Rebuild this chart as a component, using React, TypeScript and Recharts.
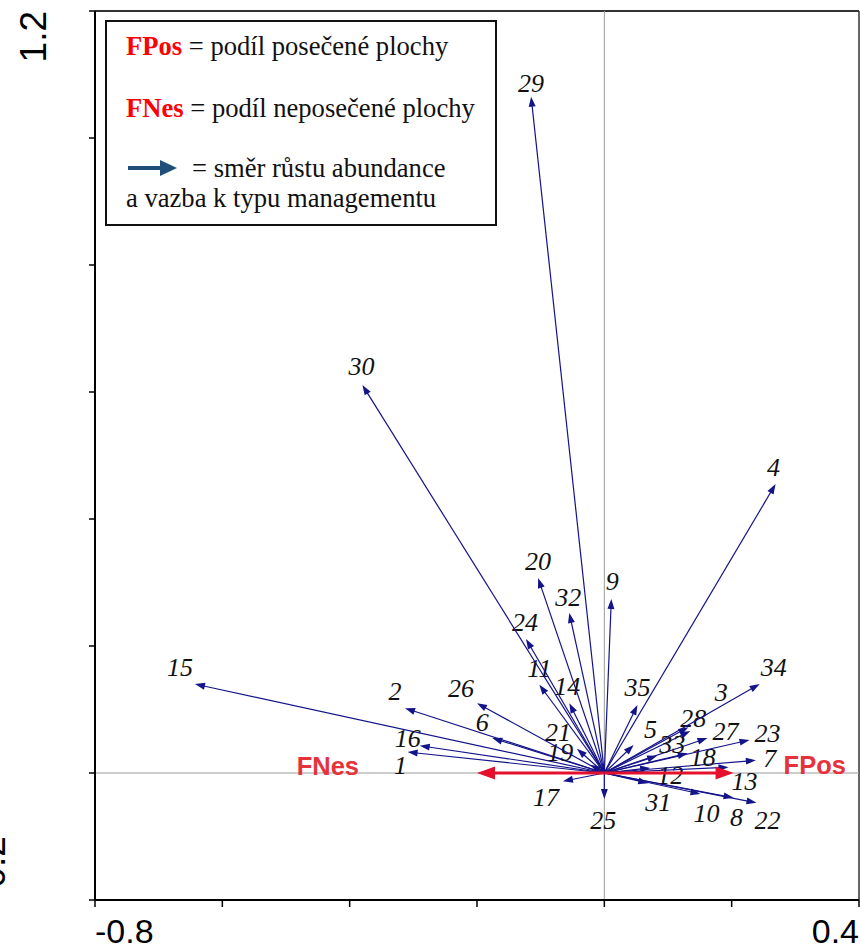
import React from "react"
import { ComposedChart, XAxis, YAxis, ReferenceLine } from "recharts"

// species arrows (CCA biplot scores)
const SPECIES = [
  "1", "2", "3", "4", "5", "6", "7", "8", "9", "10",
  "11", "12", "13", "14", "15", "16", "17", "18", "19", "20",
  "21", "22", "23", "24", "25", "26", "27", "28", "29", "30",
  "31", "32", "33", "34", "35",
]
const SPECIES_X = [
  -0.309, -0.313, 0.132, 0.269, 0.046, -0.176, 0.238, 0.203, 0.011, 0.151,
  -0.102, 0.072, 0.195, -0.055, -0.643, -0.290, -0.065, 0.131, -0.022, -0.104,
  -0.043, 0.239, 0.228, -0.123, 0.0, -0.200, 0.162, 0.135, -0.115, -0.380,
  0.069, -0.055, 0.083, 0.244, 0.052,
]
const SPECIES_Y = [
  0.033, 0.102, 0.072, 0.455, 0.044, 0.055, 0.020, -0.039, 0.274, -0.033,
  0.139, 0.008, 0.009, 0.110, 0.140, 0.043, -0.013, 0.031, 0.013, 0.307,
  0.038, -0.047, 0.052, 0.211, -0.041, 0.110, 0.055, 0.066, 1.065, 0.611,
  -0.016, 0.252, 0.027, 0.140, 0.107,
]

// environmental variables
const ENV_VARS = ["FPos", "FNes"]
const ENV_X = [0.203, -0.2]
const ENV_Y = [0, 0]

const X_TICKS = [-0.8, -0.6, -0.4, -0.2, 0, 0.2, 0.4]
const Y_TICKS = [-0.2, 0, 0.2, 0.4, 0.6, 0.8, 1.0, 1.2]

// label offsets from arrow tips, in pixels
const LABEL_OFFSETS: Record<string, [number, number]> = {
  "1": [-7, 13], "2": [-10, -17], "3": [33, -35], "4": [-2, -17], "5": [17, -16],
  "6": [-10, -16], "7": [14, -2], "8": [3, 19], "9": [1, -18], "10": [6, 19],
  "11": [0, -17], "12": [20, 7], "13": [16, 14], "14": [-2, -17], "15": [-15, -17],
  "16": [-12, -8], "17": [-17, 16], "18": [15, 4], "19": [-30, -13], "20": [0, -17],
  "21": [-19, -17], "22": [11, 17], "23": [18, -7], "24": [-1, -17], "25": [-1, 21],
  "26": [-16, -15], "27": [18, -7], "28": [3, -13], "29": [0, -14], "30": [-1, -19],
  "31": [10, 19], "32": [-1, -16], "33": [15, -12], "34": [14, -17], "35": [0, -18],
  FPos: [50, 1], FNes: [-118, 2],
}

const BLUE = "#14148a"
const RED = "#e5102c"

function arrow(p: any, color: string, width: number, len: number, half: number) {
  const { x1, y1, x2, y2 } = p
  const dx = x2 - x1
  const dy = y2 - y1
  const d = Math.sqrt(dx * dx + dy * dy) || 1
  const ux = dx / d
  const uy = dy / d
  const bx = x2 - ux * len
  const by = y2 - uy * len
  const pts = `${x2},${y2} ${bx - uy * half},${by + ux * half} ${bx + uy * half},${by - ux * half}`
  return (
    <g>
      <line x1={x1} y1={y1} x2={bx + ux * 1} y2={by + uy * 1} stroke={color} strokeWidth={width} />
      <polygon points={pts} fill={color} />
    </g>
  )
}

const speciesShape = (name: string) => (p: any) => {
  const [ox, oy] = LABEL_OFFSETS[name]
  return (
    <g>
      {arrow(p, BLUE, 1.2, 10, 3.5)}
      <text
        x={p.x2 + ox}
        y={p.y2 + oy + 9}
        textAnchor="middle"
        fontFamily='"Liberation Serif", "Times New Roman", serif'
        fontStyle="italic"
        fontSize={26}
        fill="#111"
      >
        {name}
      </text>
    </g>
  )
}

const envShape = (name: string) => (p: any) => {
  const [ox, oy] = LABEL_OFFSETS[name]
  return (
    <g>
      {arrow(p, RED, 3, 18, 6.5)}
      <text
        x={p.x2 + ox}
        y={p.y2 + oy}
        textAnchor={ox < 0 ? "end" : "start"}
        fontFamily='"Liberation Sans", Arial, sans-serif'
        fontWeight="bold"
        fontSize={25.5}
        fill="#e6333b"
      >
        {name}
      </text>
    </g>
  )
}

function XTick(props: any) {
  const { x, payload } = props
  const v = payload.value
  if (v !== -0.8 && v !== 0.4) return null
  return (
    <text
      x={x}
      y={943}
      textAnchor={v === -0.8 ? "start" : "end"}
      fontFamily='"Liberation Sans", Arial, sans-serif'
      fontSize={34}
      fill="#000"
    >
      {v.toFixed(1)}
    </text>
  )
}

function YTick(props: any) {
  const { y, payload } = props
  const v = payload.value
  if (v !== 1.2 && v !== -0.2) return null
  const bx = v === 1.2 ? 46 : 5
  return (
    <text
      x={bx}
      y={y}
      transform={`rotate(-90, ${bx}, ${y})`}
      textAnchor={v === 1.2 ? "end" : "start"}
      fontFamily='"Liberation Sans", Arial, sans-serif'
      fontSize={37}
      fill="#000"
    >
      {v.toFixed(1)}
    </text>
  )
}

function Legend() {
  const serif = '"Liberation Serif", "Times New Roman", serif'
  return (
    <svg
      width={860}
      height={944}
      style={{ position: "absolute", left: 0, top: 0, pointerEvents: "none" }}
    >
      <rect x={106} y={21} width={390} height={204} fill="#fff" stroke="#111" strokeWidth={2} />
      <g fontFamily={serif} fontSize={26.6} fill="#111">
        <text x={126} y={55}>
          <tspan fill="#ff0000" fontWeight="bold">FPos</tspan>
          <tspan> = podíl posečené plochy</tspan>
        </text>
        <text x={126} y={117}>
          <tspan fill="#ff0000" fontWeight="bold">FNes</tspan>
          <tspan> = podíl neposečené plochy</tspan>
        </text>
        <line x1={128} y1={168} x2={163} y2={168} stroke="#1f4e79" strokeWidth={4} />
        <polygon points="160,160 177,168 160,176" fill="#1f4e79" />
        <text x={192} y={177}>= směr růstu abundance</text>
        <text x={126} y={207}>a vazba k typu managementu</text>
      </g>
    </svg>
  )
}

export default function App() {
  const data = SPECIES.map((s, i) => ({ name: s, x: SPECIES_X[i], y: SPECIES_Y[i] }))

  return (
    <div style={{ position: "absolute", left: 0, top: 0, width: 860, height: 944, background: "#fff" }}>
      <ComposedChart
        width={860}
        height={944}
        data={data}
        margin={{ top: 11, right: 1, bottom: 0, left: 0 }}
      >
        <XAxis
          type="number"
          dataKey="x"
          domain={[-0.8, 0.4]}
          ticks={X_TICKS}
          height={44}
          allowDataOverflow
          axisLine={{ stroke: "#000", strokeWidth: 2 }}
          tickLine={{ stroke: "#000", strokeWidth: 1.5 }}
          tickSize={7}
          tick={<XTick />}
          interval={0}
        />
        <YAxis
          type="number"
          dataKey="y"
          domain={[-0.2, 1.2]}
          ticks={Y_TICKS}
          width={95}
          allowDataOverflow
          axisLine={{ stroke: "#000", strokeWidth: 2 }}
          tickLine={{ stroke: "#000", strokeWidth: 1.5 }}
          tickSize={6}
          tick={<YTick />}
          interval={0}
        />
        <ReferenceLine y={1.2} stroke="#333" strokeWidth={2} />
        <ReferenceLine x={0.4} stroke="#333" strokeWidth={1.5} />
        <ReferenceLine x={0} stroke="#9a9a9a" strokeWidth={1} />
        <ReferenceLine y={0} stroke="#9a9a9a" strokeWidth={1} />
        {SPECIES.map((s, i) => (
          <ReferenceLine
            key={s}
            segment={[{ x: 0, y: 0 }, { x: SPECIES_X[i], y: SPECIES_Y[i] }]}
            shape={speciesShape(s)}
          />
        ))}
        {ENV_VARS.map((v, i) => (
          <ReferenceLine
            key={v}
            segment={[{ x: 0, y: 0 }, { x: ENV_X[i], y: ENV_Y[i] }]}
            shape={envShape(v)}
          />
        ))}
      </ComposedChart>
      <Legend />
    </div>
  )
}
